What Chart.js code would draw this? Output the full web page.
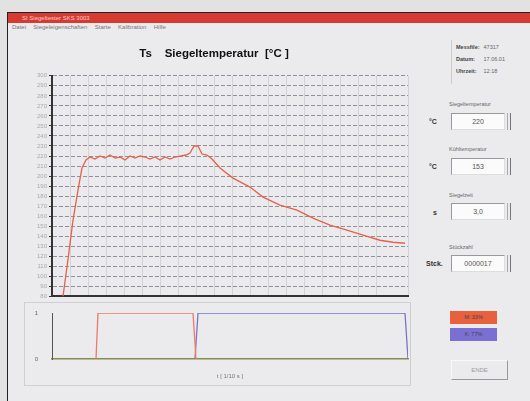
<!DOCTYPE html>
<html>
<head>
<meta charset="utf-8">
<script src="https://cdn.jsdelivr.net/npm/chart.js@4/dist/chart.umd.min.js"></script>
<style>
body { margin: 0; width: 530px; height: 401px; background: #e2e2e2; position: relative; overflow: hidden; font-family: "Liberation Sans", Arial, sans-serif; color: #333; }
#win { position: absolute; left: 7px; top: 12px; width: 523px; height: 389px; background: #ebebed; border-left: 1px solid #222; border-top: 1px solid #222; }
#titlebar { position: absolute; left: 8px; top: 13px; width: 522px; height: 10px; background: #d63a30; color: #f6d0cc; font-size: 6px; line-height: 10px; padding-left: 14px; box-sizing: border-box; }
#menu { position: absolute; left: 12px; top: 24px; font-size: 6px; color: #777; word-spacing: 2px; }
.abs { position: absolute; }
#frameBottom { position: absolute; left: 24px; top: 302px; width: 387px; height: 84px; border: 1px solid #cfcfd2; box-sizing: border-box; }
.info { font-size: 5.5px; color: #666; }
.info b { color: #444; display: inline-block; width: 26px; }
.lbl { font-size: 5.5px; color: #666; }
.unit { font-size: 7px; color: #333; font-weight: bold; }
.field { position: absolute; width: 54px; height: 17px; background: #fbfbfb; border: 1px solid #999; border-right-color: #ddd; border-bottom-color: #ddd; box-sizing: border-box; font-size: 7px; color: #555; text-align: center; line-height: 15px; }
.spin { position: absolute; width: 4px; height: 17px; border-left: 1px solid #aaa; border-right: 1px solid #777; box-sizing: border-box; }
.flag { position: absolute; left: 450px; width: 47px; height: 13px; font-size: 5.5px; line-height: 13px; text-align: center; color: #444; }
#btn { position: absolute; left: 451px; top: 360px; width: 57px; height: 20px; border: 1px solid #f8f8f8; border-right-color: #999; border-bottom-color: #999; box-sizing: border-box; font-size: 6px; color: #999; text-align: center; line-height: 18px; }
</style>
</head>
<body>
<div id="win"></div>
<div id="titlebar">SI Siegeltester SKS 3003</div>
<div id="menu">Datei&nbsp; Siegeleigenschaften&nbsp; Starte&nbsp; Kalibration&nbsp; Hilfe</div>

<canvas id="haupt" class="abs" width="390" height="262" style="left:20px; top:40px;"></canvas>
<div id="frameBottom"></div>
<canvas id="signal" class="abs" width="385" height="81" style="left:25px; top:303px;"></canvas>

<div class="abs" style="left:451px; top:40px; height:44px; border-left:1px solid #ccc;"></div>
<div class="abs info" style="left:456px; top:44px;"><b>Messfile:</b> 47317</div>
<div class="abs info" style="left:456px; top:56px;"><b>Datum:</b> 17.06.01</div>
<div class="abs info" style="left:456px; top:68px;"><b>Uhrzeit:</b> 12:18</div>

<div class="abs lbl" style="left:449px; top:101px;">Siegeltemperatur</div>
<div class="abs unit" style="left:429px; top:118px;">°C</div>
<div class="field" style="left:451px; top:113px;">220</div>
<div class="spin" style="left:507px; top:113px;"></div>

<div class="abs lbl" style="left:449px; top:146px;">Kühltemperatur</div>
<div class="abs unit" style="left:429px; top:163px;">°C</div>
<div class="field" style="left:451px; top:158px;">153</div>
<div class="spin" style="left:507px; top:158px;"></div>

<div class="abs lbl" style="left:449px; top:192px;">Siegelzeit</div>
<div class="abs unit" style="left:433px; top:209px;">s</div>
<div class="field" style="left:451px; top:203px;">3,0</div>
<div class="spin" style="left:507px; top:203px;"></div>

<div class="abs lbl" style="left:449px; top:244px;">Stückzahl</div>
<div class="abs unit" style="left:426px; top:260px;">Stck.</div>
<div class="field" style="left:451px; top:255px;">0000017</div>
<div class="spin" style="left:507px; top:255px;"></div>

<div class="flag" style="top:311px; background:#e8603e;">M: 33%</div>
<div class="flag" style="top:328px; background:#7a70d4;">K: 77%</div>
<div id="btn">ENDE</div>

<script>
// Siegeltemperatur-Verlauf (Zeit in 1/10 s, Temperatur in °C)
var zeit = [11, 16, 21, 26, 30, 34, 38, 43, 48, 53, 58, 63, 68, 73, 78, 83, 88, 93, 98, 103, 108, 113, 118, 123, 128, 134, 138, 142, 146, 150, 155, 160, 168, 181, 198, 211, 228, 245, 261, 278, 295, 311, 328, 341, 353];
var temperatur = [80, 117, 156, 186, 208, 216, 219, 217, 220, 218, 221, 218, 219, 216, 220, 218, 220, 219, 217, 219, 216, 219, 217, 219, 220, 221, 223, 230, 230, 222, 221, 217, 208, 198, 189, 179, 171, 166, 158, 151, 146, 141, 136, 134, 133];

// Schaltsignale (0 = aus, 1 = ein)
var zeitHeizen = [44, 46, 141, 144];
var heizen = [0, 1, 1, 0];
var zeitKuehlen = [143, 146, 353, 356];
var kuehlen = [0, 1, 1, 0];

var yMin = 80, yMax = 300, yStep = 10;
var tMax = 356;

function punkte(xs, ys) {
    var p = [];
    for (var i = 0; i < xs.length; i++) p.push({ x: xs[i], y: ys[i] });
    return p;
}

var ctx = document.getElementById('haupt').getContext('2d');
var chart = new Chart(ctx, {
    type: 'line',
    data: {
        datasets: [
            {
                label: 'Ts',
                data: punkte(zeit, temperatur),
                borderColor: '#e8604c',
                borderWidth: 1.3,
                pointRadius: 0,
                tension: 0,
                fill: false
            }
        ]
    },
    options: {
        responsive: false,
        animation: false,
        layout: { padding: { top: 3, right: 2, bottom: 0, left: 0 } },
        plugins: {
            legend: { display: false },
            tooltip: { enabled: false },
            title: {
                display: true,
                text: 'Ts    Siegeltemperatur  [°C ]',
                color: '#111',
                font: { family: 'Liberation Sans', size: 11.5, weight: 'bold' },
                padding: { top: 4, bottom: 15 }
            }
        },
        scales: {
            x: {
                type: 'linear',
                min: 0,
                max: tMax,
                ticks: { display: false, stepSize: 18 },
                grid: { color: 'rgba(140,140,150,0.25)', drawTicks: false },
                border: { color: '#333', width: 2 },
                afterFit: function (s) { s.height = 5; }
            },
            y: {
                min: yMin,
                max: yMax,
                ticks: { stepSize: yStep, color: '#aaa', font: { size: 6 }, padding: 2 },
                grid: { color: 'rgba(70,70,80,0.55)', tickLength: 3, tickColor: '#333' },
                border: { color: '#333', width: 2, dash: [4, 2] },
                afterFit: function (s) { s.width = 32; }
            }
        }
    }
});

var ctx2 = document.getElementById('signal').getContext('2d');
var chart2 = new Chart(ctx2, {
    type: 'line',
    data: {
        datasets: [
            {
                label: 'Heizen',
                data: punkte(zeitHeizen, heizen),
                borderColor: '#ef7a68',
                borderWidth: 1.3,
                pointRadius: 0,
                fill: false
            },
            {
                label: 'Kühlen',
                data: punkte(zeitKuehlen, kuehlen),
                borderColor: '#7a74c8',
                borderWidth: 1.3,
                pointRadius: 0,
                fill: false
            }
        ]
    },
    options: {
        responsive: false,
        animation: false,
        layout: { padding: { top: 10, right: 2, bottom: 0, left: 0 } },
        plugins: { legend: { display: false }, tooltip: { enabled: false } },
        scales: {
            x: {
                type: 'linear',
                min: 0,
                max: tMax,
                ticks: { display: false },
                grid: { display: false },
                border: { color: '#8a8a50', width: 1.5, dash: [4, 2] },
                title: { display: true, text: 't [ 1/10 s ]', color: '#777', font: { size: 6 }, padding: { top: 6 } },
                afterFit: function (s) { s.height = 25; }
            },
            y: {
                min: 0,
                max: 1,
                ticks: { stepSize: 1, color: '#666', font: { size: 6 }, padding: 6 },
                grid: { display: false },
                border: { color: '#555', width: 1 },
                afterFit: function (s) { s.width = 27; }
            }
        }
    }
});
</script>
</body>
</html>
